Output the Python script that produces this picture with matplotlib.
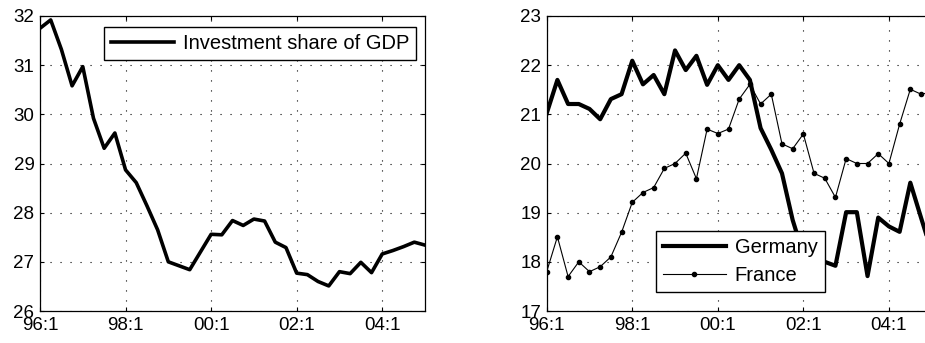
import matplotlib.pyplot as plt
import numpy as np

plt.rcParams['font.family'] = ['Liberation Sans', 'DejaVu Sans']

# quarterly observations, 1996:1 to 2005:1
trimestres = np.arange(37)
etiquetas_x = ['96:1', '98:1', '00:1', '02:1', '04:1']
pos_etiquetas = [0, 8, 16, 24, 32]

# participacion de la inversion en el PBI (panel izquierdo)
inversion = [31.75, 31.92, 31.32, 30.58, 30.97, 29.92, 29.31, 29.62, 28.87, 28.61,
             28.14, 27.65, 27.00, 26.92, 26.84, 27.20, 27.56, 27.55, 27.84, 27.74,
             27.87, 27.83, 27.40, 27.29, 26.77, 26.74, 26.60, 26.51, 26.80, 26.76,
             26.99, 26.78, 27.16, 27.23, 27.31, 27.40, 27.34]

# Alemania y Francia (panel derecho)
alemania = [21.02, 21.70, 21.21, 21.21, 21.11, 20.90, 21.31, 21.41, 22.09, 21.61,
            21.80, 21.41, 22.30, 21.90, 22.19, 21.60, 22.00, 21.70, 22.00, 21.70,
            20.72, 20.28, 19.80, 18.85, 18.15, 18.05, 18.00, 17.92, 19.01, 19.01,
            17.71, 18.90, 18.72, 18.61, 19.61, 18.90, 18.20]
francia = [17.80, 18.51, 17.70, 18.00, 17.80, 17.90, 18.10, 18.60, 19.21, 19.41,
           19.51, 19.90, 20.00, 20.21, 19.69, 20.70, 20.61, 20.70, 21.31, 21.61,
           21.21, 21.41, 20.40, 20.30, 20.60, 19.80, 19.70, 19.31, 20.10, 20.00,
           20.00, 20.20, 20.00, 20.80, 21.51, 21.41, 21.45]


def estilo_ejes(ax, ymin, ymax):
    ax.set_xlim(0, 36)
    ax.set_ylim(ymin, ymax)
    ax.set_xticks(pos_etiquetas)
    ax.set_xticklabels(etiquetas_x)
    ax.set_yticks(range(ymin, ymax + 1))
    ax.tick_params(direction='in', length=3, width=0.8, labelsize=13.5,
                   top=True, right=True, pad=4)
    ax.tick_params(axis='x', pad=4)
    ax.grid(True, color='black', linestyle=(0, (1, 8)), linewidth=0.8)
    for s in ax.spines.values():
        s.set_linewidth(0.9)


fig = plt.figure(figsize=(9.25, 3.43), dpi=100)

ax1 = fig.add_axes([40 / 925, 32 / 343, 385 / 925, 295 / 343])
ax1.plot(trimestres, inversion, color='black', linewidth=2.6,
         label='Investment share of GDP')
estilo_ejes(ax1, 26, 32)
ax1.legend(loc='upper right', bbox_to_anchor=(0.977, 0.963), borderaxespad=0,
           fancybox=False, framealpha=1, edgecolor='black', fontsize=14.5,
           handlelength=3.1, handletextpad=0.45, borderpad=0.35)

ax2 = fig.add_axes([546.7 / 925, 32 / 343, 385 / 925, 295 / 343])
ax2.plot(trimestres, alemania, color='black', linewidth=3.0, label='Germany')
ax2.plot(trimestres, francia, color='black', linewidth=0.8, marker='o',
         markersize=3, label='France')
estilo_ejes(ax2, 17, 23)
ax2.legend(loc='lower left', bbox_to_anchor=(0.284, 0.063), borderaxespad=0,
           fancybox=False, framealpha=1, edgecolor='black', fontsize=14.5,
           handlelength=3.1, handletextpad=0.45, borderpad=0.35, labelspacing=0.45)

plt.savefig('out.png', dpi=100)
